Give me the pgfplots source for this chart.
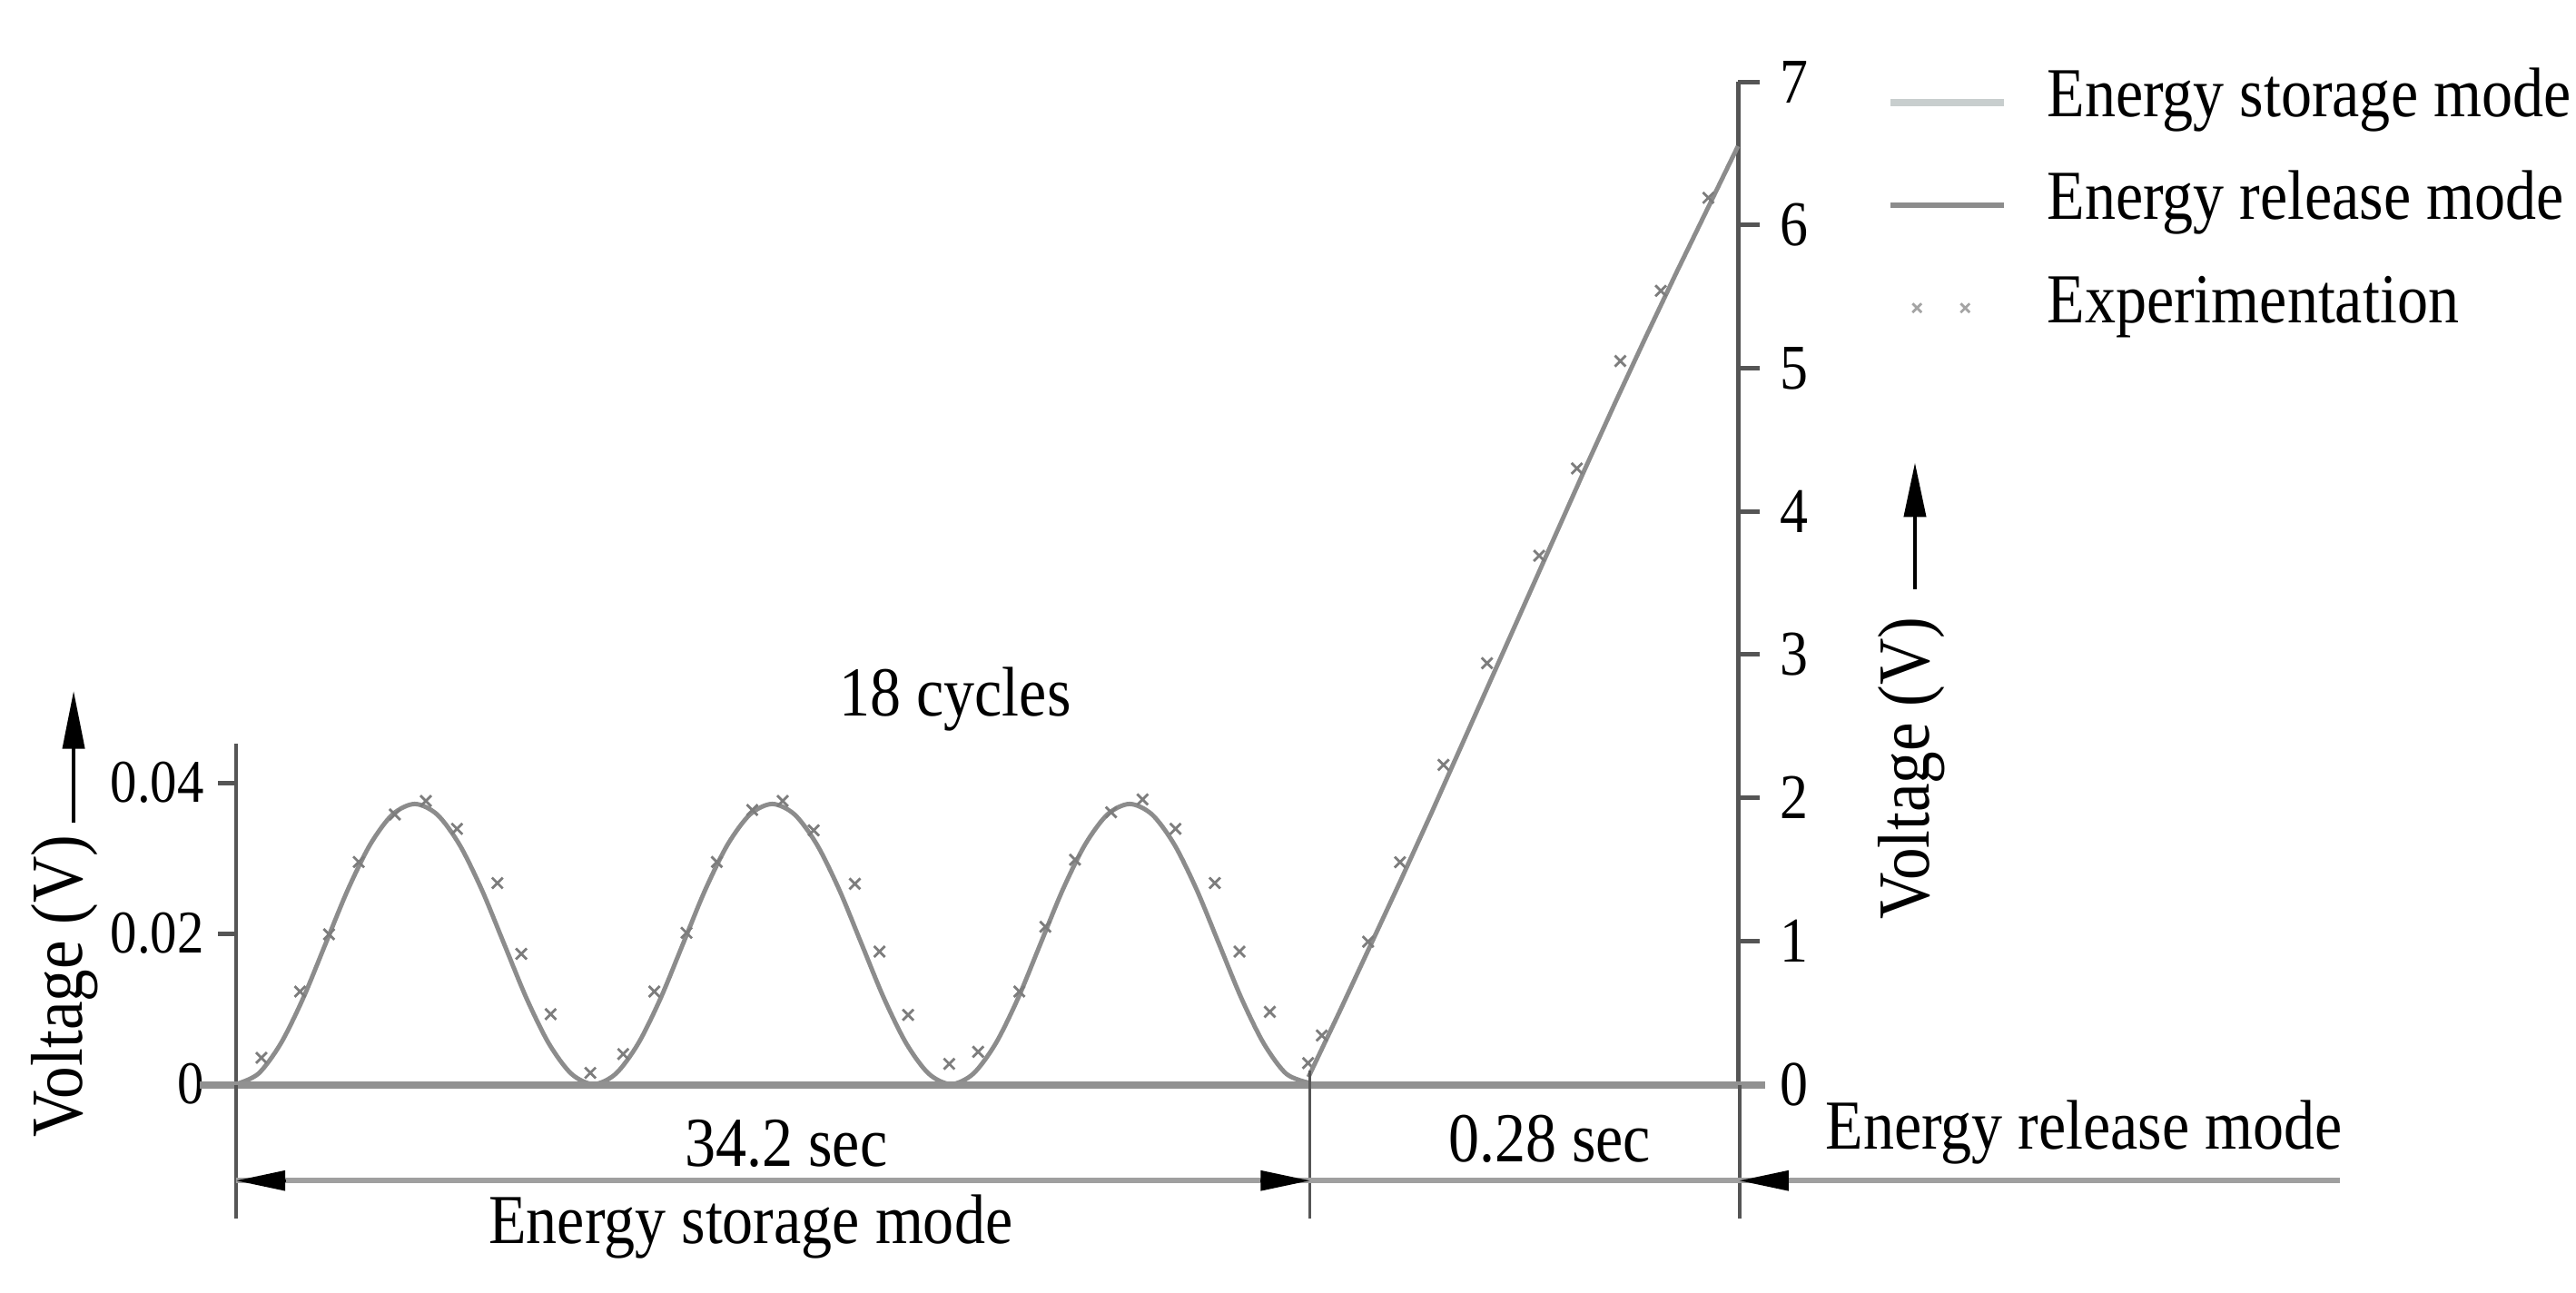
\documentclass[border=0pt]{standalone}
\usepackage{fontspec}
\setmainfont{Liberation Serif}[FakeStretch=0.88]
\usepackage{pgfplots}
\pgfplotsset{compat=1.18}
\usetikzlibrary{arrows.meta}

\definecolor{axisgray}{RGB}{85,85,85}
\definecolor{curvegray}{RGB}{140,140,140}
\definecolor{markgray}{RGB}{125,125,125}
\definecolor{basegray}{RGB}{145,145,145}
\definecolor{legstore}{RGB}{200,206,206}

\begin{document}
\begin{tikzpicture}
\useasboundingbox (0,0) rectangle (14.185,7.115);

% energy storage mode, three of the 18 cycles
\begin{axis}[
  at={(1.30cm,1.145cm)}, anchor=south west,
  scale only axis, width=5.905cm, height=1.875cm,
  xmin=0, xmax=3, ymin=0, ymax=0.0452,
  axis x line=none, axis y line*=left, xtick=\empty,
  ytick={0,0.02,0.04}, yticklabels={0,0.02,0.04}, scaled y ticks=false,
  tick align=outside, major tick length=0.1cm,
  /pgf/number format/assume math mode=true,
  y axis line style={axisgray, line width=0.7pt},
  ytick style={axisgray, line width=0.7pt},
  yticklabel style={font=\fontsize{9.5}{11}\selectfont, inner sep=2pt},
  clip=false,
]
\addplot[curvegray, line width=0.7pt, smooth, forget plot] coordinates {
(0,0) (0.0625,0.0014) (0.125,0.0054) (0.1875,0.0114) (0.25,0.0186)
(0.3125,0.0258) (0.375,0.0318) (0.4375,0.0358) (0.5,0.0372)
(0.5625,0.0358) (0.625,0.0318) (0.6875,0.0258) (0.75,0.0186)
(0.8125,0.0114) (0.875,0.0054) (0.9375,0.0014) (1,0)
(1.0625,0.0014) (1.125,0.0054) (1.1875,0.0114) (1.25,0.0186)
(1.3125,0.0258) (1.375,0.0318) (1.4375,0.0358) (1.5,0.0372)
(1.5625,0.0358) (1.625,0.0318) (1.6875,0.0258) (1.75,0.0186)
(1.8125,0.0114) (1.875,0.0054) (1.9375,0.0014) (2,0)
(2.0625,0.0014) (2.125,0.0054) (2.1875,0.0114) (2.25,0.0186)
(2.3125,0.0258) (2.375,0.0318) (2.4375,0.0358) (2.5,0.0372)
(2.5625,0.0358) (2.625,0.0318) (2.6875,0.0258) (2.75,0.0186)
(2.8125,0.0114) (2.875,0.0054) (2.9375,0.0014) (3,0.0002)
};
\addplot[only marks, mark=x, mark size=1.2pt, markgray, forget plot] coordinates {
(0.071,0.0035) (0.179,0.0123) (0.260,0.0199) (0.343,0.0295) (0.444,0.0358)
(0.531,0.0376) (0.618,0.0339) (0.731,0.0267) (0.798,0.0173) (0.880,0.0093)
(0.991,0.0015) (1.083,0.0040) (1.170,0.0123) (1.260,0.0201) (1.345,0.0295)
(1.444,0.0364) (1.529,0.0376) (1.616,0.0337) (1.731,0.0266) (1.800,0.0176)
(1.880,0.0092) (1.995,0.0027) (2.076,0.0043) (2.191,0.0123) (2.264,0.0209)
(2.347,0.0298) (2.448,0.0361) (2.536,0.0378) (2.628,0.0339) (2.738,0.0267)
(2.807,0.0176) (2.892,0.0096) (2.999,0.0028)
};
\end{axis}

% energy release mode, 0.28 s
\begin{axis}[
  at={(7.205cm,1.145cm)}, anchor=south west,
  scale only axis, width=2.365cm, height=5.52cm,
  xmin=0, xmax=0.28, ymin=0, ymax=7,
  axis x line=none, axis y line*=right, xtick=\empty,
  ytick={0,1,2,3,4,5,6,7},
  tick align=outside, major tick length=0.12cm,
  /pgf/number format/assume math mode=true,
  y axis line style={axisgray, line width=0.7pt},
  ytick style={axisgray, line width=0.7pt},
  yticklabel style={font=\fontsize{10}{12}\selectfont, inner sep=3pt},
  clip=false,
  legend cell align=left,
  legend style={at={(rel axis cs:1,1)}, anchor=west, xshift=0.82cm, yshift=-0.68cm,
    draw=none, fill=none, inner sep=0pt, outer sep=0pt,
    column sep=0.215cm, row sep=6.6pt,
    font=\fontsize{11}{13}\selectfont,
    nodes={inner sep=0pt, text height=0.7em, text depth=0.25em}},
]
\addplot[curvegray, line width=0.7pt, forget plot] coordinates {
(0,0.05) (0.02,0.50) (0.04,0.96) (0.06,1.42) (0.08,1.89) (0.10,2.37)
(0.12,2.85) (0.14,3.33) (0.16,3.81) (0.18,4.29) (0.20,4.76) (0.22,5.22)
(0.24,5.67) (0.26,6.11) (0.28,6.55)
};
\addplot[only marks, mark=x, mark size=1.2pt, markgray, forget plot] coordinates {
(0.0087,0.34) (0.0389,0.995) (0.0597,1.55) (0.0880,2.23) (0.1164,2.94)
(0.1504,3.69) (0.1750,4.30) (0.2033,5.05) (0.2297,5.54) (0.2607,6.19)
};
\addlegendimage{legend image code/.code={\draw[legstore, line width=1.2pt] (0cm,0cm) -- (0.625cm,0cm);}}
\addlegendentry{Energy storage mode}
\addlegendimage{legend image code/.code={\draw[curvegray, line width=0.9pt] (0cm,0cm) -- (0.625cm,0cm);}}
\addlegendentry{Energy release mode}
\addlegendimage{legend image code/.code={\path (0cm,0cm) (0.625cm,0cm);
  \draw[markgray!70, mark size=1.0pt] plot[mark=x, only marks] coordinates {(0.145cm,0cm) (0.41cm,0cm)};}}
\addlegendentry{Experimentation}
\end{axis}

\begin{scope}[x=0.005cm, y=-0.005cm, yshift=7.115cm]
  % base line and the lines below it
  \draw[basegray, line width=1.1pt] (220,1194) -- (1942,1194);
  \draw[axisgray, line width=0.5pt] (260,1194) -- (260,1341);
  \draw[axisgray, line width=0.5pt] (1441,1178) -- (1441,1341);
  \draw[axisgray, line width=0.5pt] (1914,1194) -- (1914,1341);
  \draw[gray!75, line width=0.9pt] (260,1299) -- (2575,1299);
  \draw[-{Triangle[length=0.27cm,width=0.11cm]}, black] (314,1299) -- (260,1299);
  \draw[-{Triangle[length=0.27cm,width=0.11cm]}, black] (1387,1299) -- (1441,1299);
  \draw[-{Triangle[length=0.27cm,width=0.11cm]}, black] (1968,1299) -- (1914,1299);

  % axis titles with arrows
  \node[rotate=90, font=\fontsize{11.5}{13}\selectfont] at (71,1085) {Voltage (V)};
  \draw[black, line width=0.6pt, -{Triangle[length=0.32cm,width=0.12cm]}] (81,905) -- (81,760);
  \node[rotate=90, font=\fontsize{11.5}{13}\selectfont] at (2103,845) {Voltage (V)};
  \draw[black, line width=0.6pt, -{Triangle[length=0.3cm,width=0.12cm]}] (2107,648) -- (2107,509);

  \begin{scope}[font=\fontsize{11}{13}\selectfont]
    \node at (1051,769) {18 cycles};
    \node at (865,1258) {34.2 sec};
    \node at (826,1350) {Energy storage mode};
    \node at (1705,1253) {0.28 sec};
    \node at (2293,1246) {Energy release mode};
  \end{scope}
\end{scope}
\end{tikzpicture}
\end{document}
